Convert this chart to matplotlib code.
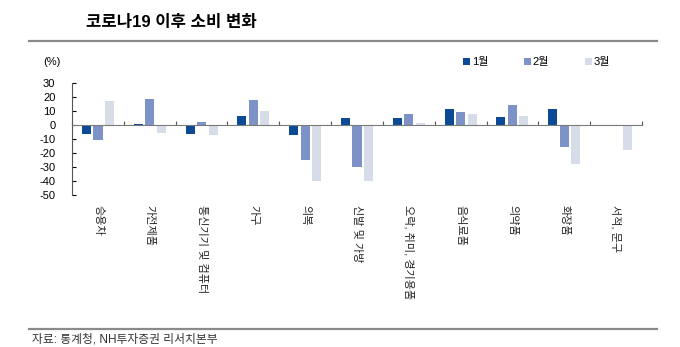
"""Consumption change by category after COVID-19 (monthly, %)."""

import matplotlib
matplotlib.use("Agg")
import matplotlib.pyplot as plt
import numpy as np
from matplotlib.patches import Patch
from matplotlib.lines import Line2D

plt.rcParams["font.family"] = ["Liberation Sans", "Noto Sans CJK KR"]
plt.rcParams["axes.unicode_minus"] = False

categories = ["승용차", "가전제품", "통신기기 및 컴퓨터", "가구", "의복", "신발 및 가방",
              "오락, 취미, 경기용품", "음식료품", "의약품", "화장품", "서적, 문구"]
months = ["1월", "2월", "3월"]
jan = [-6.5, 0.5, -6.3, 6.3, -7.5, 4.7, 5.2, 11.7, 5.9, 11.7, -1.0]
feb = [-11.0, 18.8, 2.0, 17.6, -25.0, -29.8, 7.7, 8.9, 14.1, -15.7, 0.2]
mar = [17.0, -5.4, -7.5, 10.3, -39.7, -40.0, 1.2, 8.0, 6.3, -27.7, -17.6]
yticks = [30, 20, 10, 0, -10, -20, -30, -40, -50]

colors = ["#0d4a96", "#7d92c6", "#d6dde8"]

fig = plt.figure(figsize=(6.8, 3.47), dpi=100)
ax = fig.add_axes([0.106, 0.438, 0.838, 0.323])

x = np.arange(len(categories))
width = 0.175
pitch = 0.222
for i, (vals, c) in enumerate(zip([jan, feb, mar], colors)):
    ax.bar(x + (i - 1) * pitch, vals, width=width, color=c, zorder=2)

ax.set_xlim(-0.5, len(categories) - 0.5)
ax.set_ylim(-50, 30)
ax.set_yticks(yticks)
ax.tick_params(axis="y", direction="in", length=3, labelsize=8, pad=12, width=0.8)

# x axis sits on zero, with ticks between categories
ax.spines["bottom"].set_position(("data", 0))
ax.spines["bottom"].set_color("#7a7a7a")
ax.spines["bottom"].set_zorder(3)
ax.spines["left"].set_color("#555555")
ax.spines["top"].set_visible(False)
ax.spines["right"].set_visible(False)
ax.set_xticks(np.arange(len(categories) + 1) - 0.5)
ax.set_xticklabels([])
ax.tick_params(axis="x", direction="in", length=3, color="#555555", width=0.8)

for xi, name in zip(x, categories):
    ax.text(xi, -0.09, name, transform=ax.get_xaxis_transform(), rotation=270,
            ha="center", va="top", fontsize=8, color="#222222")

# header / footer
fig.text(86 / 680, 1 - 22 / 347, "코로나19 이후 소비 변화", fontsize=12,
         fontweight="bold", va="center", ha="left")
fig.add_artist(Line2D([29 / 680, 657 / 680], [1 - 41 / 347] * 2,
                      color="#8a8a8a", lw=1.6))
fig.add_artist(Line2D([29 / 680, 657 / 680], [1 - 329 / 347] * 2,
                      color="#8a8a8a", lw=1.6))
fig.text(43 / 680, 1 - 62 / 347, "(%)", fontsize=8, va="center", ha="left")
fig.text(32 / 680, 1 - 339 / 347, "자료: 통계청, NH투자증권 리서치본부", fontsize=8.5,
         va="center", ha="left", color="#333333")

handles = [Patch(facecolor=c, edgecolor="none") for c in colors]
fig.legend(handles, months, loc="center left", bbox_to_anchor=(463 / 680, 1 - 62 / 347),
           ncol=3, frameon=False, fontsize=8, handlelength=0.6, handleheight=0.6,
           handletextpad=0.2, columnspacing=3.2, borderaxespad=0, borderpad=0)

fig.savefig("out.png", dpi=100)
